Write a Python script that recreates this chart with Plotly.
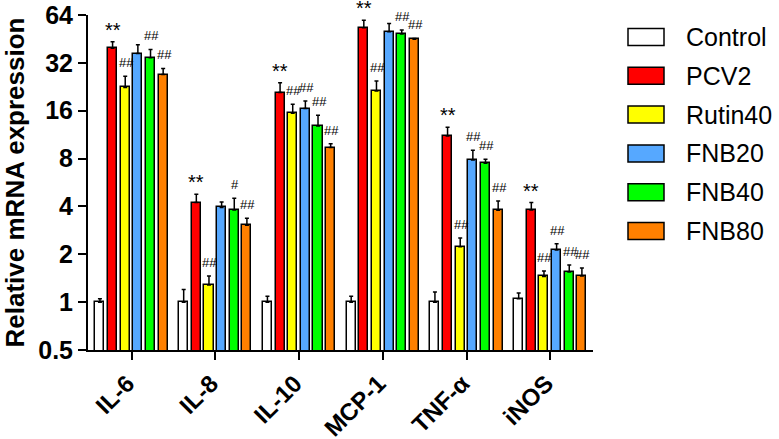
import plotly.graph_objects as go
import math

categories = ["IL-6", "IL-8", "IL-10", "MCP-1", "TNF-α", "iNOS"]
series_names = ["Control", "PCV2", "Rutin40", "FNB20", "FNB40", "FNB80"]
colors = ["#FFFFFF", "#FF0000", "#FFFF00", "#56A8FF", "#00FF00", "#FF8000"]

control = [1.0, 1.0, 1.0, 1.0, 1.0, 1.05]
pcv2 = [39.5, 4.23, 20.8, 53.3, 11.1, 3.8]
rutin40 = [22.4, 1.28, 15.4, 21.3, 2.23, 1.45]
fnb20 = [36.6, 3.94, 16.5, 50.3, 7.84, 2.13]
fnb40 = [34.5, 3.8, 12.8, 48.6, 7.47, 1.55]
fnb80 = [27.0, 3.05, 9.38, 45.0, 3.79, 1.46]

control_err = [0.05, 0.2, 0.09, 0.09, 0.16, 0.09]
pcv2_err = [4.0, 0.55, 3.2, 6.0, 1.5, 0.43]
rutin40_err = [4.0, 0.18, 2.2, 3.3, 0.3, 0.12]
fnb20_err = [5.0, 0.33, 1.9, 6.3, 1.2, 0.2]
fnb40_err = [4.4, 0.7, 2.2, 2.9, 0.45, 0.16]
fnb80_err = [2.5, 0.32, 0.55, 0.6, 0.54, 0.18]

control_sig = ["", "", "", "", "", ""]
pcv2_sig = ["**", "**", "**", "**", "**", "**"]
rutin40_sig = ["##", "##", "##", "##", "##", "##"]
fnb20_sig = ["", "", "##", "", "##", "##"]
fnb40_sig = ["##", "#", "##", "##", "##", "##"]
fnb80_sig = ["##", "##", "##", "##", "##", "##"]

y_tickvals = [0.5, 1, 2, 4, 8, 16, 32, 64]
y_ticktext = ["0.5", "1", "2", "4", "8", "16", "32", "64"]

values = [control, pcv2, rutin40, fnb20, fnb40, fnb80]
errors = [control_err, pcv2_err, rutin40_err, fnb20_err, fnb40_err, fnb80_err]
sigs = [control_sig, pcv2_sig, rutin40_sig, fnb20_sig, fnb40_sig, fnb80_sig]

FONT = "Liberation Sans, Arial, sans-serif"
slot = 0.151
bar_w = 0.108
n = len(series_names)

fig = go.Figure()
annotations = []
for k, (name, col, vals, errs, sg) in enumerate(zip(series_names, colors, values, errors, sigs)):
    xs = [i + (k - (n - 1) / 2) * slot for i in range(len(categories))]
    fig.add_trace(go.Bar(
        x=xs, y=vals, width=bar_w, name=name, showlegend=False,
        marker=dict(color=col, line=dict(color="black", width=1.5)),
        error_y=dict(type="data", symmetric=False, array=errs,
                     arrayminus=[0] * len(errs), color="black",
                     thickness=1.5, width=2),
    ))
    for x, v, e, s in zip(xs, vals, errs, sg):
        if not s:
            continue
        star = s == "**"
        annotations.append(dict(
            x=x, y=math.log10(v + e), xref="x", yref="y", text=s, showarrow=False,
            xanchor="center", yanchor="bottom", yshift=-1 if star else 4, xshift=0 if star else 1,
            font=dict(family=FONT, size=20 if star else 13, color="black"),
        ))

# manual legend
shapes = []
x0_px, x1_px = 88, 593
y0_px, y1_px = 15, 350
pw = x1_px - x0_px
ph = y1_px - y0_px
def px2x(p):
    return (p - x0_px) / pw
def py2y(p):
    return (y1_px - p) / ph
for k, (name, col) in enumerate(zip(series_names, colors)):
    cy = 37 + k * 38.8
    shapes.append(dict(type="rect", xref="paper", yref="paper",
                       x0=px2x(628), x1=px2x(664), y0=py2y(cy + 8.5), y1=py2y(cy - 8.5),
                       fillcolor=col, line=dict(color="black", width=1.5)))
    annotations.append(dict(xref="paper", yref="paper", x=px2x(684), y=py2y(cy),
                            text=name, showarrow=False, xanchor="left", yanchor="middle",
                            font=dict(family=FONT, size=25, color="black")))

fig.update_layout(
    width=779, height=439,
    margin=dict(l=x0_px, r=779 - x1_px, t=y0_px, b=439 - y1_px, autoexpand=False),
    plot_bgcolor="white", paper_bgcolor="white",
    bargap=0, barmode="overlay",
    shapes=shapes, annotations=annotations,
    font=dict(family=FONT, color="black"),
)
fig.update_xaxes(
    range=[-0.52, 5.51], tickmode="array", tickvals=list(range(len(categories))),
    ticktext=["<b>%s</b>" % c for c in categories], tickangle=-45,
    tickfont=dict(family=FONT, size=24, color="black"),
    ticklabelshift=-4,
    showline=True, linecolor="black", linewidth=2,
    ticks="outside", ticklen=8, tickwidth=2, tickcolor="black",
    showgrid=False, zeroline=False, automargin=False,
)
fig.update_yaxes(
    type="log", range=[math.log10(0.5), math.log10(64)],
    tickmode="array", tickvals=y_tickvals,
    ticktext=["<b>%s</b>" % t for t in y_ticktext],
    tickfont=dict(family=FONT, size=25, color="black"),
    showline=True, linecolor="black", linewidth=2,
    ticks="outside", ticklen=8, tickwidth=2, tickcolor="black",
    showgrid=False, zeroline=False, automargin=False,
    title=dict(text="<b>Relative mRNA expression</b>", font=dict(family=FONT, size=26, color="black"), standoff=6),
)

fig.write_html("out.html", config={"displayModeBar": False},
               post_script="document.body.style.margin='0';document.body.style.overflow='hidden';")
